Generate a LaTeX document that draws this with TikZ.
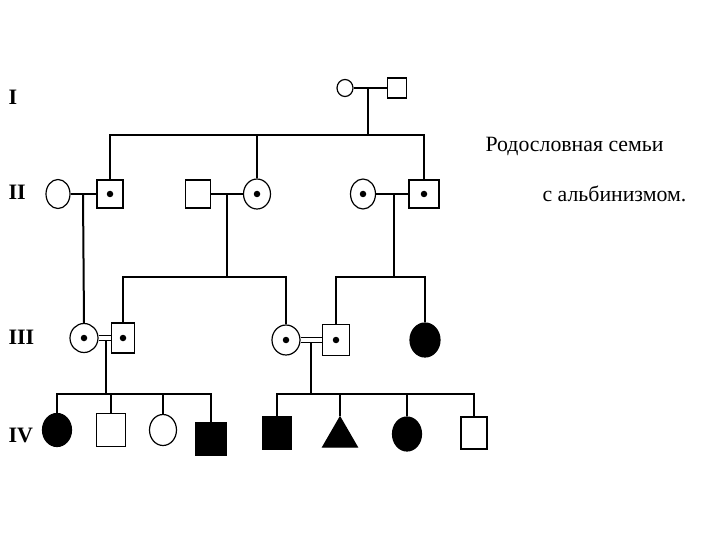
\documentclass[tikz,border=0pt]{standalone}
\usepackage{fontspec}
\setmainfont{Liberation Serif}
\usetikzlibrary{shapes.geometric}
\begin{document}
\begin{tikzpicture}[x=1pt,y=-1pt,line width=1.2pt,
  fem/.style={ellipse,draw,inner sep=0pt},
  mal/.style={rectangle,draw,inner sep=0pt},
  aff/.style={fill=black},
  dotc/.style={circle,fill=black,draw=none,inner sep=0pt,minimum size=6.5pt},
  dbl/.style={double,double distance=3.5pt,line width=1pt},
  thick1/.style={line width=2pt},
  gen/.style={font=\bfseries\fontsize{22}{22}\selectfont,anchor=base west,inner sep=0pt},
  lab/.style={font=\fontsize{21.8}{24}\selectfont,anchor=base west,inner sep=0pt}]
\useasboundingbox (0,0) rectangle (720,540);

% generation labels
\node[gen] (gI) at (8,105) {I};
\node[gen] (gII) at (8,200) {II};
\node[gen] (gIII) at (8,344) {III};
\node[gen] (gIV) at (8,442) {IV};

\node[lab] (t1) at (485,152) {Родословная семьи};
\node[lab] (t2) at (542,202) {с альбинизмом.};

% Generation I
\node[fem,minimum width=16pt,minimum height=17pt] (i1) at (345,88) {};
\node[mal,minimum width=19pt,minimum height=20pt] (i2) at (397,88) {};
\draw (i1) -- (i2);
\coordinate (m1) at (368,88);
\coordinate (s1) at (368,135);

% Generation II
\node[fem,minimum width=24pt,minimum height=29pt] (ii1) at (58,194) {};
\node[mal,minimum width=26pt,minimum height=28pt] (ii2) at (110,194) {};
\node[mal,minimum width=25pt,minimum height=28pt] (ii3) at (198,194) {};
\node[fem,minimum width=27pt,minimum height=30pt] (ii4) at (257,194) {};
\node[fem,minimum width=25pt,minimum height=30pt] (ii5) at (363,194) {};
\node[mal,minimum width=30pt,minimum height=28pt] (ii6) at (424,194) {};
\node[dotc] (d2) at (ii2) {};
\node[dotc] (d4) at (ii4) {};
\node[dotc] (d5) at (ii5) {};
\node[dotc] (d6) at (ii6) {};

\draw (m1) -- (s1);
\draw (ii2.north) |- (s1) -| (ii6.north);
\draw (ii4.north) -- (ii4.north |- s1);

\draw (ii1) -- (ii2);
\draw (ii3) -- (ii4);
\draw (ii5) -- (ii6);
\coordinate (m2) at (83,194);
\coordinate (m3) at (227,194);
\coordinate (s3) at (227,277);
\coordinate (m4) at (394,194);
\coordinate (s4) at (394,277);

% Generation III
\node[fem,minimum width=28pt,minimum height=29pt] (iii1) at (84,338) {};
\node[mal,minimum width=23pt,minimum height=30pt] (iii2) at (123,338) {};
\node[fem,minimum width=28pt,minimum height=30pt] (iii3) at (286,340) {};
\node[mal,minimum width=27pt,minimum height=31pt] (iii4) at (336,340) {};
\node[fem,aff,minimum width=30pt,minimum height=34pt] (iii5) at (425,340) {};
\node[dotc] (d7) at (iii1) {};
\node[dotc] (d8) at (iii2) {};
\node[dotc] (d9) at (iii3) {};
\node[dotc] (d10) at (iii4) {};

\draw[thick1] (m2) -- (iii1.north);
\draw (m3) -- (s3);
\draw (iii2.north) |- (s3) -| (iii3.north);
\draw (m4) -- (s4);
\draw (iii4.north) |- (s4) -| (iii5.north);

\draw[dbl] (iii1) -- (iii2);
\draw[dbl] (iii3) -- (iii4);
\coordinate (m5) at (106,340);
\coordinate (s5) at (106,394);
\coordinate (m6) at (311,342);
\coordinate (s6) at (311,394);
\draw (m5) -- (s5);
\draw (m6) -- (s6);

% Generation IV
\node[fem,aff,minimum width=29pt,minimum height=33pt] (iv1) at (57,430) {};
\node[mal,minimum width=29pt,minimum height=33pt] (iv2) at (111,430) {};
\node[fem,minimum width=27pt,minimum height=31pt] (iv3) at (163,430) {};
\node[mal,aff,minimum width=30pt,minimum height=32pt] (iv4) at (211,439) {};
\node[mal,aff,minimum width=29pt,minimum height=32pt] (iv5) at (277,433) {};
\node[regular polygon,regular polygon sides=3,aff,draw,inner sep=0pt,minimum size=40pt] (iv6) at (340,437) {};
\node[fem,aff,minimum width=29pt,minimum height=34pt] (iv7) at (407,434) {};
\node[mal,minimum width=26pt,minimum height=32pt] (iv8) at (474,433) {};

\draw (iv1.north) |- (s5) -| (iv4.north);
\draw (iv2.north) -- (iv2.north |- s5);
\draw (iv3.north) -- (iv3.north |- s5);
\draw (iv5.north) |- (s6) -| (iv8.north);
\draw (iv6.corner 1) -- (iv6.corner 1 |- s6);
\draw (iv7.north) -- (iv7.north |- s6);
\end{tikzpicture}
\end{document}
